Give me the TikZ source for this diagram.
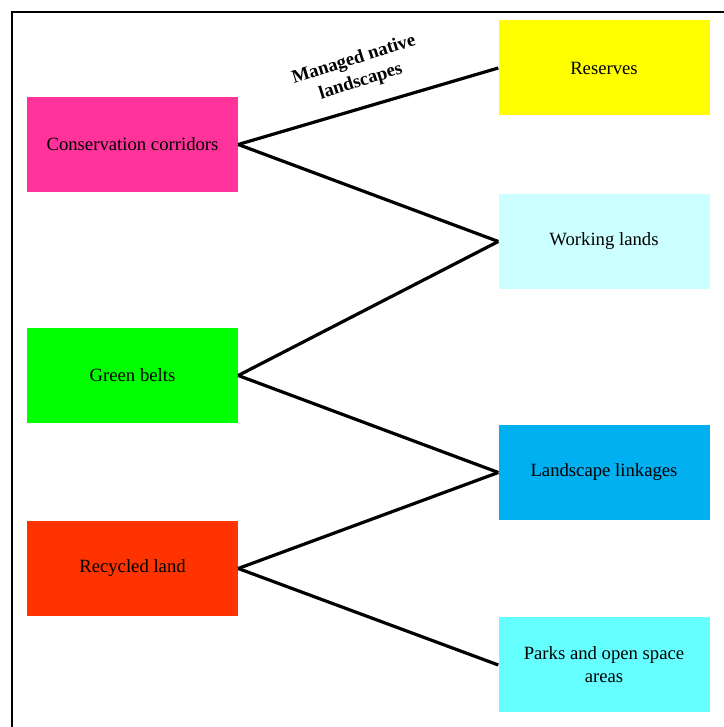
\documentclass[tikz,border=0pt]{standalone}
\usepackage{fontspec}
\setmainfont{Liberation Serif}
\usetikzlibrary{positioning}
\definecolor{pinkbox}{HTML}{FF3399}
\definecolor{greenbox}{HTML}{00FF00}
\definecolor{redbox}{HTML}{FF3300}
\definecolor{yellowbox}{HTML}{FFFF00}
\definecolor{palebox}{HTML}{CCFFFF}
\definecolor{bluebox}{HTML}{00B0F0}
\definecolor{cyanbox}{HTML}{66FFFF}

\begin{document}
\begin{tikzpicture}[x=1pt, y=1pt,
		landbox/.style={rectangle, minimum width=211pt, minimum height=95pt, inner sep=0pt, align=center, font=\fontsize{18.7}{23}\selectfont},
		link/.style={line width=3.2pt}]
				\useasboundingbox (0, 0) rectangle (723, 727);
				\draw[line width=2.6pt] (12, -20) -- (12, 715) -- (760, 715);
				\node[landbox, fill=pinkbox] (CC) at (132.5, 582.5) {Conservation corridors};
				\node[landbox, fill=greenbox] (GB) at (132.5, 351.5) {Green belts};
				\node[landbox, fill=redbox] (RL) at (132.5, 158.5) {Recycled land};
				\node[landbox, fill=yellowbox] (RS) at (604, 659) {Reserves};
				\node[landbox, fill=palebox] (WL) at (604, 485.5) {Working lands};
				\node[landbox, fill=bluebox] (LL) at (604, 254.5) {Landscape linkages};
				\node[landbox, fill=cyanbox] (PK) at (604, 62) {Parks and open space\\areas};
				\draw[link] (CC.east) -- node[pos=0.5, sloped, above=12pt, rotate=1, align=center, font=\fontsize{18.7}{23}\selectfont\bfseries] {Managed native\\landscapes} (RS.west);
				\draw[link] (CC.east) -- (WL.west);
				\draw[link] (GB.east) -- (WL.west);
				\draw[link] (GB.east) -- (LL.west);
				\draw[link] (RL.east) -- (LL.west);
				\draw[link] (RL.east) -- (PK.west);
			\end{tikzpicture}
\end{document}
